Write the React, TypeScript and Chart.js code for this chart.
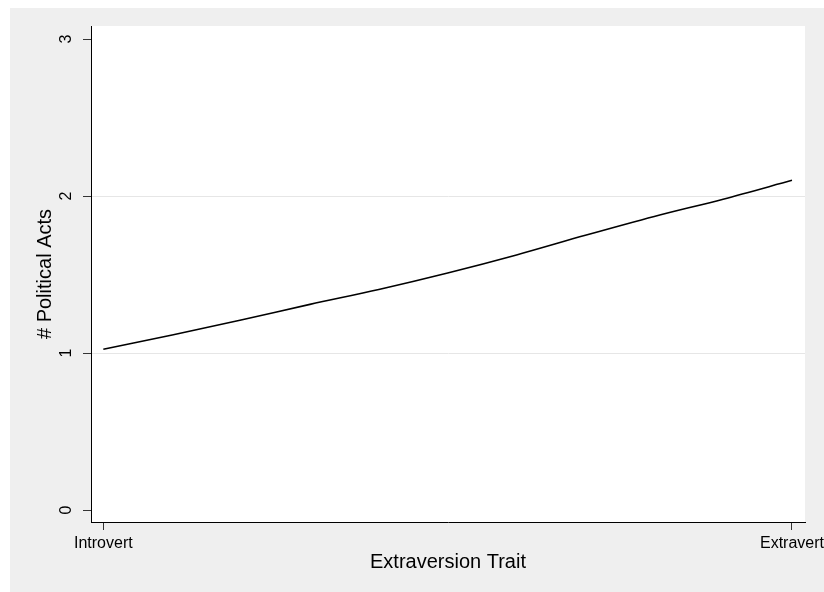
import React, { useEffect, useRef } from "react";
import { Chart, registerables } from "chart.js";

Chart.register(...registerables);

// Extraversion trait position (0 = Introvert, 1 = Extravert)
const traitPositions = [0, 0.1, 0.2, 0.3, 0.4, 0.5, 0.6, 0.7, 0.8, 0.9, 1];
// Predicted number of political acts
const politicalActs = [1.024, 1.115, 1.21, 1.31, 1.405, 1.51, 1.625, 1.75, 1.87, 1.98, 2.1];
const xTickValues = [0, 1];
const xTickLabels = ["Introvert", "Extravert"];
const yTickValues = [0, 1, 2, 3];
const yGridValues = [1, 2];

const FONT = "'Liberation Sans', Arial, Helvetica, sans-serif";

const backgroundPlugin = {
  id: "stataBackground",
  beforeDraw(chart: any) {
    const { ctx, chartArea, width, height } = chart;
    ctx.save();
    ctx.fillStyle = "#ffffff";
    ctx.fillRect(0, 0, width, height);
    ctx.fillStyle = "#efefef";
    ctx.fillRect(10, 8, width - 10, height - 8);
    ctx.fillStyle = "#ffffff";
    ctx.fillRect(chartArea.left, chartArea.top, chartArea.right - chartArea.left, chartArea.bottom - chartArea.top);
    ctx.restore();
  },
};

export default function App() {
  const ref = useRef<HTMLCanvasElement | null>(null);

  useEffect(() => {
    if (!ref.current) return;
    const chart = new Chart(ref.current, {
      type: "line",
      data: {
        datasets: [
          {
            data: traitPositions.map((x, i) => ({ x, y: politicalActs[i] })),
            borderColor: "#000000",
            borderWidth: 1.6,
            pointRadius: 0,
            fill: false,
            cubicInterpolationMode: "monotone",
          },
        ],
      },
      options: {
        responsive: false,
        animation: false,
        devicePixelRatio: 1,
        layout: { padding: { left: 0, top: 26, right: 19, bottom: 0 } },
        plugins: {
          legend: { display: false },
          tooltip: { enabled: false },
        },
        scales: {
          x: {
            type: "linear",
            min: -0.0179,
            max: 1.0189,
            afterBuildTicks: (scale: any) => {
              scale.ticks = xTickValues.map((v) => ({ value: v }));
            },
            afterFit: (scale: any) => {
              scale.height = 70;
              scale.paddingLeft = 0;
              scale.paddingRight = 0;
            },
            ticks: {
              autoSkip: false,
              maxRotation: 0,
              minRotation: 0,
              padding: 4,
              color: "#000000",
              font: { family: FONT, size: 16 },
              callback: (v: any) => {
                const i = xTickValues.indexOf(Number(v));
                return i >= 0 ? xTickLabels[i] : "";
              },
            },
            grid: {
              drawOnChartArea: false,
              drawTicks: true,
              tickLength: 8,
              color: "rgba(0,0,0,0)",
              tickColor: "#333333",
              tickWidth: 1,
            },
            border: { display: true, color: "#000000", width: 1 },
            title: {
              display: true,
              text: "Extraversion Trait",
              color: "#000000",
              font: { family: FONT, size: 20 },
              padding: { top: 0, bottom: 17.5 },
            },
          },
          y: {
            type: "linear",
            min: -0.076,
            max: 3.083,
            afterBuildTicks: (scale: any) => {
              scale.ticks = yTickValues.map((v) => ({ value: v }));
            },
            afterFit: (scale: any) => {
              scale.width = 91;
              scale.paddingTop = 0;
              scale.paddingBottom = 0;
            },
            ticks: {
              autoSkip: false,
              minRotation: 90,
              maxRotation: 90,
              crossAlign: "center",
              padding: 12,
              color: "#000000",
              font: { family: FONT, size: 16 },
            },
            grid: {
              drawOnChartArea: true,
              drawTicks: true,
              tickLength: 8,
              color: (ctx: any) =>
                ctx.tick && yGridValues.includes(ctx.tick.value) ? "#e6e6e6" : "rgba(0,0,0,0)",
              tickColor: "#333333",
              lineWidth: 1,
              tickWidth: 1,
            },
            border: { display: true, color: "#000000", width: 1 },
            title: {
              display: true,
              text: "# Political Acts",
              color: "#000000",
              font: { family: FONT, size: 20 },
              padding: { top: 33, bottom: 0 },
            },
          },
        },
      } as any,
      plugins: [backgroundPlugin],
    });
    return () => chart.destroy();
  }, []);

  return (
    <div style={{ position: "fixed", left: 0, top: 0, width: 824, height: 592, background: "#ffffff" }}>
      <canvas ref={ref} width={824} height={592} style={{ width: 824, height: 592, display: "block" }} />
    </div>
  );
}
